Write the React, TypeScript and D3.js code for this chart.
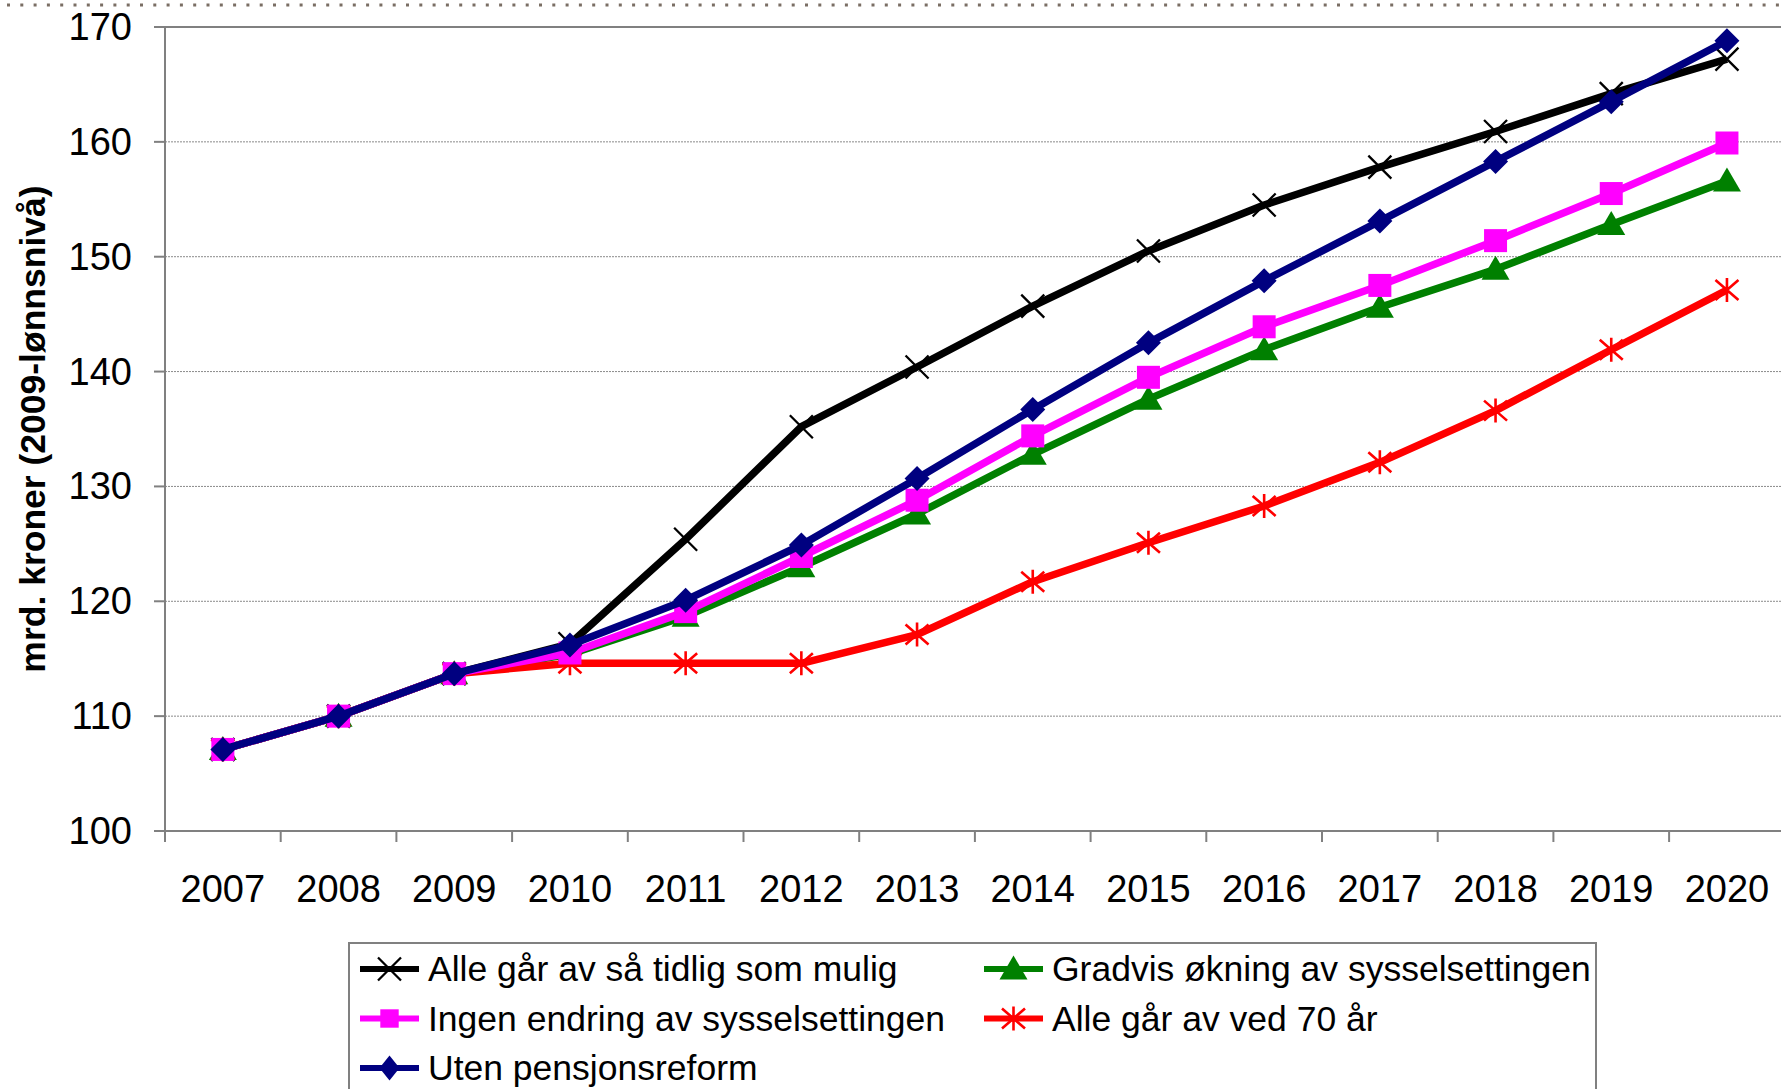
import { useRef, useEffect } from "react";
import * as d3 from "d3";

const YEARS = ["2007", "2008", "2009", "2010", "2011", "2012", "2013", "2014", "2015", "2016", "2017", "2018", "2019", "2020"];
const Y_TICKS = [100, 110, 120, 130, 140, 150, 160, 170];

const TIDLIG = [107.1, 110.0, 113.7, 116.3, 125.4, 135.2, 140.4, 145.7, 150.5, 154.5, 157.8, 160.9, 164.2, 167.2];
const GRADVIS = [107.1, 110.0, 113.7, 115.4, 118.7, 123.0, 127.6, 132.8, 137.6, 141.9, 145.6, 148.9, 152.8, 156.6];
const ALLE70 = [107.1, 110.0, 113.7, 114.6, 114.6, 114.6, 117.1, 121.7, 125.1, 128.3, 132.1, 136.6, 141.9, 147.1];
const INGEN = [107.1, 110.0, 113.7, 115.5, 119.1, 123.9, 128.8, 134.4, 139.5, 143.9, 147.5, 151.4, 155.5, 159.9];
const UTEN = [107.1, 110.0, 113.7, 116.2, 120.1, 124.9, 130.7, 136.7, 142.5, 147.9, 153.1, 158.3, 163.5, 168.8];

type Marker = "x" | "triangle" | "square" | "asterisk" | "diamond";
interface Series { name: string; values: number[]; color: string; marker: Marker }

// drawing order (last on top)
const SERIES: Series[] = [
  { name: "Alle går av så tidlig som mulig", values: TIDLIG, color: "#000000", marker: "x" },
  { name: "Gradvis økning av sysselsettingen", values: GRADVIS, color: "#008000", marker: "triangle" },
  { name: "Alle går av ved 70 år", values: ALLE70, color: "#ff0000", marker: "asterisk" },
  { name: "Ingen endring av sysselsettingen", values: INGEN, color: "#ff00ff", marker: "square" },
  { name: "Uten pensjonsreform", values: UTEN, color: "#000080", marker: "diamond" },
];

const LEGEND_ORDER = [
  "Alle går av så tidlig som mulig",
  "Gradvis økning av sysselsettingen",
  "Ingen endring av sysselsettingen",
  "Alle går av ved 70 år",
  "Uten pensjonsreform",
];

const W = 1781;
const H = 1089;
const FONT = "'Liberation Sans', Arial, sans-serif";

function drawMarker(g: d3.Selection<SVGGElement, unknown, null, undefined>, kind: Marker, x: number, y: number, color: string, k = 1) {
  if (kind === "square") {
    const h = 11.5 * k;
    g.append("rect").attr("x", x - h).attr("y", y - h).attr("width", 2 * h).attr("height", 2 * h).attr("fill", color);
  } else if (kind === "diamond") {
    const w = 12.5 * k, h = 12.5;
    g.append("path").attr("d", `M${x},${y - h}L${x + w},${y}L${x},${y + h}L${x - w},${y}Z`).attr("fill", color);
  } else if (kind === "triangle") {
    g.append("path").attr("d", `M${x},${y - 13.5}L${x + 14},${y + 10.5}L${x - 14},${y + 10.5}Z`).attr("fill", color);
  } else if (kind === "x") {
    g.append("path")
      .attr("d", `M${x - 11.5},${y - 11.5}L${x + 11.5},${y + 11.5}M${x + 11.5},${y - 11.5}L${x - 11.5},${y + 11.5}`)
      .attr("stroke", color).attr("stroke-width", 2.3).attr("fill", "none");
  } else {
    g.append("path")
      .attr("d", `M${x - 11.5},${y - 10}L${x + 11.5},${y + 10}M${x + 11.5},${y - 10}L${x - 11.5},${y + 10}M${x},${y - 12}L${x},${y + 12}`)
      .attr("stroke", color).attr("stroke-width", 2.6).attr("fill", "none");
  }
}

export default function App() {
  const svgRef = useRef<SVGSVGElement>(null);

  useEffect(() => {
    const svg = d3.select(svgRef.current);
    svg.selectAll("*").remove();

    const left = 165;
    const step = 115.7;
    const x = d3.scaleBand<string>().domain(YEARS).range([left, left + step * YEARS.length]);
    const y = d3.scaleLinear().domain([100, 170]).range([831, 27]);
    const cx = (yr: string) => (x(yr) as number) + x.bandwidth() / 2;

    svg.append("rect").attr("width", W).attr("height", H).attr("fill", "#fff");

    // dotted line at the very top
    svg.append("line")
      .attr("x1", 7).attr("x2", W).attr("y1", 5).attr("y2", 5)
      .attr("stroke", "#7a6e64").attr("stroke-width", 3).attr("stroke-dasharray", "3 10.3");

    // gridlines
    svg.append("g").selectAll("line")
      .data(Y_TICKS.filter((t) => t > 100 && t < 170))
      .join("line")
      .attr("x1", left).attr("x2", W)
      .attr("y1", (d) => y(d)).attr("y2", (d) => y(d))
      .attr("stroke", "#8a8a8a").attr("stroke-width", 1).attr("stroke-dasharray", "2 1");

    // plot border (top) and axes
    svg.append("line").attr("x1", left).attr("x2", W).attr("y1", y(170)).attr("y2", y(170))
      .attr("stroke", "#808080").attr("stroke-width", 2);
    svg.append("line").attr("x1", left).attr("x2", W).attr("y1", y(100)).attr("y2", y(100))
      .attr("stroke", "#808080").attr("stroke-width", 2);
    svg.append("line").attr("x1", left).attr("x2", left).attr("y1", y(170)).attr("y2", y(100))
      .attr("stroke", "#808080").attr("stroke-width", 2);

    // y ticks + labels
    const yt = svg.append("g");
    Y_TICKS.forEach((t) => {
      yt.append("line").attr("x1", left - 11).attr("x2", left).attr("y1", y(t)).attr("y2", y(t))
        .attr("stroke", "#808080").attr("stroke-width", 2);
      yt.append("text").attr("x", 132).attr("y", y(t)).attr("text-anchor", "end")
        .attr("dominant-baseline", "central").attr("font-family", FONT).attr("font-size", 38)
        .attr("fill", "#000").text(String(t));
    });

    // x ticks + labels
    const xt = svg.append("g");
    YEARS.forEach((yr) => {
      const x0 = x(yr) as number;
      xt.append("line").attr("x1", x0).attr("x2", x0).attr("y1", y(100)).attr("y2", y(100) + 11)
        .attr("stroke", "#808080").attr("stroke-width", 2);
      xt.append("text").attr("x", cx(yr)).attr("y", 889).attr("text-anchor", "middle")
        .attr("dominant-baseline", "central").attr("font-family", FONT).attr("font-size", 38)
        .attr("fill", "#000").text(yr);
    });

    // y title
    svg.append("text")
      .attr("transform", `translate(33,429) rotate(-90)`)
      .attr("text-anchor", "middle").attr("dominant-baseline", "central")
      .attr("font-family", FONT).attr("font-size", 35.5).attr("font-weight", "bold")
      .text("mrd. kroner (2009-lønnsnivå)");

    // series
    const line = d3.line<number>().x((_, i) => cx(YEARS[i])).y((d) => y(d));
    SERIES.forEach((s) => {
      const g = svg.append("g");
      g.append("path").attr("d", line(s.values)).attr("fill", "none")
        .attr("stroke", s.color).attr("stroke-width", 7.5).attr("stroke-linejoin", "round");
      s.values.forEach((v, i) => drawMarker(g, s.marker, cx(YEARS[i]), y(v), s.color));
    });

    // legend
    const lg = svg.append("g");
    lg.append("rect").attr("x", 349).attr("y", 943).attr("width", 1247).attr("height", 200)
      .attr("fill", "#fff").attr("stroke", "#808080").attr("stroke-width", 2);
    LEGEND_ORDER.forEach((name, i) => {
      const s = SERIES.find((d) => d.name === name) as Series;
      const col = i % 2;
      const row = Math.floor(i / 2);
      const lx = col === 0 ? 360 : 984;
      const ly = 969 + row * 49.5;
      const g = lg.append("g");
      g.append("line").attr("x1", lx).attr("x2", lx + 59).attr("y1", ly).attr("y2", ly)
        .attr("stroke", s.color).attr("stroke-width", 6);
      drawMarker(g, s.marker, lx + 29.5, ly, s.color, 0.8);
      g.append("text").attr("x", lx + 68).attr("y", ly).attr("dominant-baseline", "central")
        .attr("font-family", FONT).attr("font-size", 35.5).attr("fill", "#000").text(name);
    });
  }, []);

  return (
    <div style={{ position: "absolute", left: 0, top: 0 }}>
      <svg ref={svgRef} width={W} height={H} style={{ display: "block" }} />
    </div>
  );
}
